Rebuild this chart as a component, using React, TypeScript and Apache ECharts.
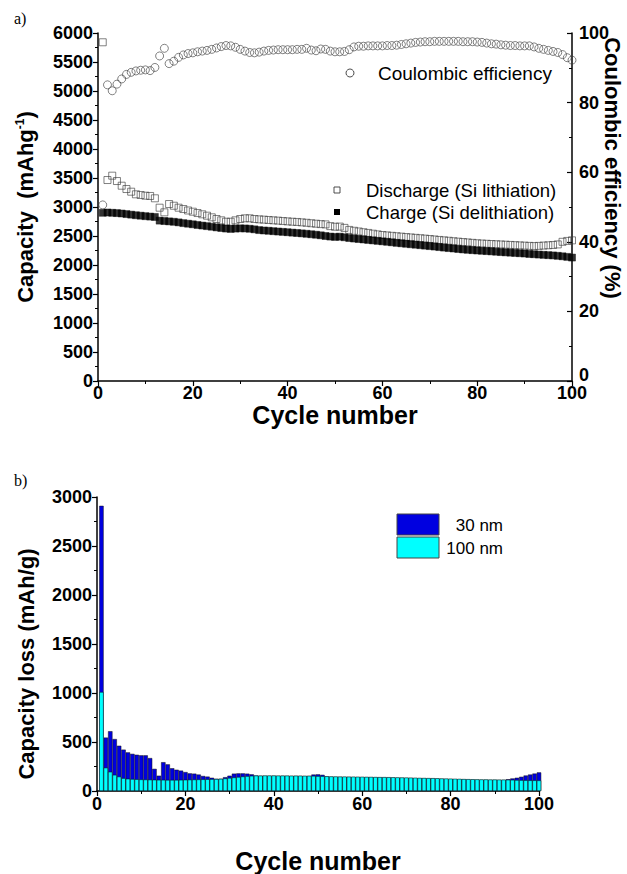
import React, { useEffect, useRef } from "react";
import * as echarts from "echarts";

// ---------- data ----------
const cycles: number[] = Array.from({ length: 100 }, (_, i) => i + 1);

const dischargeCap: number[] = [
  5840, 3465, 3540, 3448, 3367, 3310, 3264, 3219, 3207, 3195,
  3190, 3150, 2988, 2908, 3051, 3022, 2988, 2965, 2940, 2919,
  2896, 2874, 2850, 2822, 2793, 2770, 2746, 2746, 2770, 2793,
  2805, 2805, 2793, 2787, 2782, 2776, 2770, 2765, 2758, 2752,
  2746, 2742, 2735, 2728, 2720, 2712, 2705, 2700, 2670, 2660,
  2662, 2640, 2605, 2590, 2578, 2565, 2553, 2540, 2528, 2517,
  2510, 2503, 2496, 2489, 2482, 2475, 2468, 2462, 2455, 2448,
  2440, 2432, 2425, 2418, 2410, 2403, 2396, 2389, 2382, 2375,
  2370, 2366, 2362, 2358, 2354, 2350, 2346, 2342, 2338, 2334,
  2330, 2326, 2330, 2335, 2340, 2345, 2355, 2400, 2415, 2425,
];

const chargeCap: number[] = [
  2900, 2905, 2900, 2895, 2888, 2878, 2868, 2858, 2850, 2842,
  2835, 2828, 2765, 2758, 2752, 2745, 2735, 2722, 2712, 2702,
  2690, 2680, 2670, 2660, 2648, 2638, 2628, 2622, 2628, 2632,
  2630, 2625, 2615, 2602, 2595, 2590, 2583, 2577, 2571, 2565,
  2558, 2552, 2545, 2538, 2530, 2522, 2512, 2500, 2490, 2484,
  2488, 2478, 2465, 2456, 2448, 2440, 2432, 2424, 2416, 2408,
  2400, 2391, 2382, 2374, 2366, 2358, 2350, 2342, 2334, 2326,
  2318, 2309, 2300, 2292, 2284, 2276, 2268, 2262, 2256, 2250,
  2245, 2240, 2235, 2229, 2223, 2218, 2213, 2208, 2203, 2198,
  2190, 2186, 2180, 2175, 2170, 2165, 2158, 2150, 2140, 2128,
];

const coulombicEff: number[] = [
  50.6, 85.1, 83.4, 85.3, 86.8, 88.1, 88.7, 89.1, 89.3, 89.4,
  89.2, 90.1, 93.4, 95.6, 91.2, 91.9, 93.0, 93.7, 94.1, 94.3,
  94.6, 94.8, 95.0, 95.3, 95.7, 96.1, 96.4, 96.3, 95.9, 95.3,
  94.8, 94.4, 94.3, 94.5, 94.8, 95.0, 95.1, 95.2, 95.2, 95.2,
  95.2, 95.3, 95.3, 95.6, 95.1, 94.9, 95.4, 95.3, 94.8, 94.6,
  94.6, 94.7, 95.2, 96.0, 96.2, 96.2, 96.3, 96.3, 96.3, 96.3,
  96.4, 96.4, 96.5, 96.7, 96.9, 97.1, 97.3, 97.4, 97.5, 97.5,
  97.6, 97.6, 97.6, 97.6, 97.6, 97.6, 97.5, 97.5, 97.5, 97.4,
  97.3, 97.1, 96.9, 96.8, 96.6, 96.5, 96.4, 96.4, 96.3, 96.3,
  96.3, 96.0, 95.6, 95.3, 95.0, 94.7, 94.4, 93.8, 92.9, 92.2,
];

const loss30nm: number[] = [
  2910, 545, 610, 530, 462, 422, 394, 379, 370, 364,
  364, 336, 226, 156, 294, 272, 232, 217, 208, 193,
  180, 177, 168, 153, 147, 135, 125, 125, 141, 156,
  177, 180, 180, 177, 170, 158, 155, 154, 154, 155,
  154, 155, 154, 153, 154, 153, 152, 153, 168, 170,
  165, 148, 145, 144, 144, 143, 143, 142, 142, 141,
  141, 140, 139, 138, 138, 137, 136, 135, 134, 133,
  132, 131, 130, 129, 128, 127, 126, 124, 122, 121,
  120, 119, 118, 117, 116, 115, 114, 114, 113, 113,
  112, 112, 120, 128, 135, 145, 158, 168, 178, 190,
];

const loss100nm: number[] = [
  1010, 238, 196, 165, 147, 131, 125, 122, 120, 118,
  117, 116, 115, 114, 114, 113, 113, 113, 114, 115,
  116, 117, 118, 119, 120, 121, 122, 124, 128, 133,
  138, 143, 148, 152, 155, 157, 157, 158, 158, 158,
  157, 157, 157, 156, 156, 156, 155, 155, 154, 152,
  151, 150, 149, 148, 147, 147, 146, 146, 145, 145,
  144, 144, 143, 142, 142, 141, 140, 139, 138, 137,
  136, 135, 134, 133, 132, 131, 130, 128, 127, 126,
  125, 124, 122, 121, 120, 119, 118, 118, 117, 117,
  116, 116, 115, 114, 112, 111, 110, 109, 109, 108,
];

const capTicksMax = 6000;
const lossTicksMax = 3000;

// ---------- styles ----------
const FONT = "'Liberation Sans', Arial, Helvetica, sans-serif";
const axisLineStyle = { color: "#000", width: 1.5 };
const tickLabel = {
  color: "#000",
  fontFamily: FONT,
  fontWeight: "bold" as const,
  fontSize: 18,
  formatter: (v: number) => String(v),
};
const xTitleStyle = { color: "#000", fontFamily: FONT, fontWeight: "bold" as const, fontSize: 25 };
const yTitleStyle = { color: "#000", fontFamily: FONT, fontWeight: "bold" as const, fontSize: 22 };
const tick = { length: 5, lineStyle: { color: "#000", width: 1.2 } };
const minor = { show: true, splitNumber: 2, length: 3, lineStyle: { color: "#000", width: 1 } };

export default function App() {
  const ref = useRef<HTMLDivElement>(null);

  useEffect(() => {
    if (!ref.current) return;
    const chart = echarts.init(ref.current, undefined, { renderer: "svg" });

    const zip = (ys: number[]) => cycles.map((c, i) => [c, ys[i]]);

    const option: any = {
      animation: false,
      backgroundColor: "#ffffff",
      textStyle: { fontFamily: FONT },
      grid: [
        { left: 98, right: 55, top: 33, height: 348 },
        { left: 97, right: 88, top: 497, height: 296 },
      ],
      xAxis: [
        {
          gridIndex: 0,
          type: "value",
          min: 0,
          max: 100,
          interval: 20,
          name: "Cycle number",
          nameLocation: "middle",
          nameGap: 18,
          nameTextStyle: xTitleStyle,
          axisLine: { onZero: false, lineStyle: axisLineStyle },
          axisTick: tick,
          minorTick: minor,
          splitLine: { show: false },
          axisLabel: { ...tickLabel, margin: 3 },
        },
        {
          gridIndex: 1,
          type: "value",
          min: 0,
          max: 100,
          interval: 20,
          name: "Cycle number",
          nameLocation: "middle",
          nameGap: 57,
          nameTextStyle: xTitleStyle,
          axisLine: { onZero: false, lineStyle: axisLineStyle },
          axisTick: tick,
          minorTick: minor,
          splitLine: { show: false },
          axisLabel: { ...tickLabel, margin: 4 },
        },
      ],
      yAxis: [
        {
          gridIndex: 0,
          type: "value",
          min: 0,
          max: capTicksMax,
          interval: 500,
          name: "{a|Capacity  (mAhg}{s|-1}{a|)}",
          nameLocation: "middle",
          nameGap: 62,
          nameTextStyle: {
            ...yTitleStyle,
            rich: {
              a: { ...yTitleStyle },
              s: { ...yTitleStyle, fontSize: 12, verticalAlign: "top", padding: [0, 0, 9, 0] },
            },
          },
          axisLine: { show: true, lineStyle: axisLineStyle },
          axisTick: tick,
          minorTick: minor,
          splitLine: { show: false },
          axisLabel: { ...tickLabel, margin: 5 },
        },
        {
          gridIndex: 0,
          type: "value",
          position: "right",
          min: 0,
          max: 100,
          interval: 20,
          axisLine: { show: true, lineStyle: axisLineStyle },
          axisTick: { ...tick, inside: true },
          minorTick: minor,
          splitLine: { show: false },
          axisLabel: {
            ...tickLabel,
            margin: 7,
            formatter: (v: number) => (v === 0 ? "{z|0}" : String(v)),
            rich: {
              z: { color: "#000", fontFamily: FONT, fontWeight: "bold", fontSize: 18, padding: [0, 0, 12, 0] },
            },
          },
        },
        {
          gridIndex: 1,
          type: "value",
          min: 0,
          max: lossTicksMax,
          interval: 500,
          axisLine: { show: true, lineStyle: axisLineStyle },
          axisTick: tick,
          minorTick: minor,
          splitLine: { show: false },
          axisLabel: { ...tickLabel, margin: 5 },
        },
      ],
      series: [
        {
          name: "Discharge (Si lithiation)",
          type: "scatter",
          xAxisIndex: 0,
          yAxisIndex: 0,
          symbol: "rect",
          symbolSize: 7,
          itemStyle: { color: "rgba(255,255,255,0)", borderColor: "#3a3a3a", borderWidth: 0.8 },
          data: zip(dischargeCap),
        },
        {
          name: "Charge (Si delithiation)",
          type: "scatter",
          xAxisIndex: 0,
          yAxisIndex: 0,
          symbol: "rect",
          symbolSize: 7,
          itemStyle: { color: "#000", borderColor: "#000", borderWidth: 0.5 },
          data: zip(chargeCap),
        },
        {
          name: "Coulombic efficiency",
          type: "scatter",
          xAxisIndex: 0,
          yAxisIndex: 1,
          symbol: "circle",
          symbolSize: 8,
          itemStyle: { color: "rgba(255,255,255,0)", borderColor: "#3a3a3a", borderWidth: 0.8 },
          data: zip(coulombicEff),
        },
        {
          name: "30 nm",
          type: "bar",
          xAxisIndex: 1,
          yAxisIndex: 2,
          barWidth: 4.4,
          barGap: "-100%",
          itemStyle: { color: "#0000e0", borderColor: "#111", borderWidth: 0.5 },
          data: zip(loss30nm),
        },
        {
          name: "100 nm",
          type: "bar",
          xAxisIndex: 1,
          yAxisIndex: 2,
          barWidth: 4.4,
          barGap: "-100%",
          itemStyle: { color: "#00ffff", borderColor: "#111", borderWidth: 0.5 },
          data: zip(loss100nm),
        },
      ],
      graphic: [
        { type: "text", left: 14, top: 10, style: { text: "a)", font: "16px 'Liberation Serif', 'Times New Roman', serif", fill: "#000" } },
        { type: "text", left: 14, top: 472, style: { text: "b)", font: "16px 'Liberation Serif', 'Times New Roman', serif", fill: "#000" } },
        // axis titles placed off-centre like the reference
        {
          type: "text",
          x: 612,
          y: 168,
          rotation: -Math.PI / 2,
          style: { text: "Coulombic efficiency (%)", font: `bold 22px ${FONT}`, fill: "#000", align: "center", verticalAlign: "middle" },
        },
        {
          type: "text",
          x: 26,
          y: 664,
          rotation: Math.PI / 2,
          style: { text: "Capacity loss (mAh/g)", font: `bold 22px ${FONT}`, fill: "#000", align: "center", verticalAlign: "middle" },
        },
        // top legend
        { type: "circle", shape: { cx: 350, cy: 73, r: 4 }, style: { fill: "none", stroke: "#3a3a3a", lineWidth: 0.9 } },
        { type: "text", x: 378, y: 73, style: { text: "Coulombic efficiency", font: `19px ${FONT}`, fill: "#000", verticalAlign: "middle" } },
        { type: "rect", shape: { x: 334, y: 187, width: 6, height: 6 }, style: { fill: "none", stroke: "#3a3a3a", lineWidth: 0.9 } },
        { type: "text", x: 366, y: 190, style: { text: "Discharge (Si lithiation)", font: `18.5px ${FONT}`, fill: "#000", verticalAlign: "middle" } },
        { type: "rect", shape: { x: 334, y: 209, width: 6, height: 6 }, style: { fill: "#000" } },
        { type: "text", x: 366, y: 212, style: { text: "Charge (Si delithiation)", font: `18.5px ${FONT}`, fill: "#000", verticalAlign: "middle" } },
        // bottom legend
        { type: "rect", shape: { x: 397, y: 514, width: 42, height: 21 }, style: { fill: "#0000e0", stroke: "#444", lineWidth: 1 } },
        { type: "text", x: 503, y: 525, style: { text: "30 nm", font: `17px ${FONT}`, fill: "#000", align: "right", verticalAlign: "middle" } },
        { type: "rect", shape: { x: 397, y: 537, width: 42, height: 21 }, style: { fill: "#00ffff", stroke: "#444", lineWidth: 1 } },
        { type: "text", x: 503, y: 548, style: { text: "100 nm", font: `17px ${FONT}`, fill: "#000", align: "right", verticalAlign: "middle" } },
      ],
    };

    chart.setOption(option);
    return () => chart.dispose();
  }, []);

  return (
    <div
      ref={ref}
      style={{ position: "absolute", left: 0, top: 0, width: 627, height: 874, background: "#fff" }}
    />
  );
}
